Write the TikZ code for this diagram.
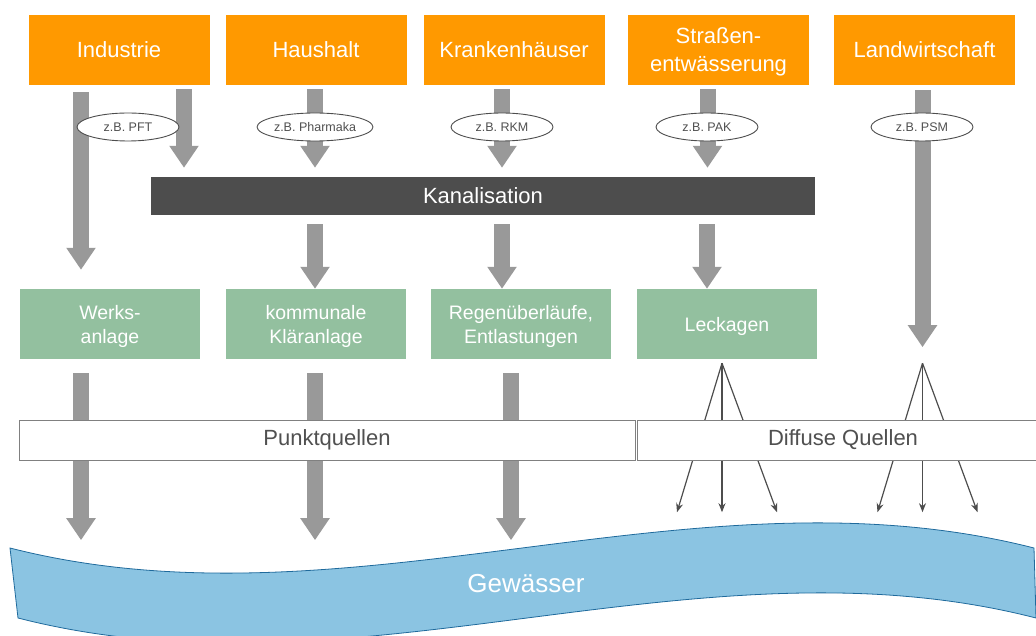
\documentclass[tikz,border=0pt]{standalone}
\usepackage{fontspec}
\setmainfont{Liberation Sans}
\usetikzlibrary{arrows.meta, shapes.geometric, calc, backgrounds}
\definecolor{quelle}{HTML}{FF9900}
\definecolor{anlage}{HTML}{93C09F}
\definecolor{kanal}{HTML}{4D4D4D}
\definecolor{pfeil}{HTML}{999999}
\definecolor{wasser}{HTML}{8BC4E2}
\definecolor{ufer}{HTML}{1F6A9C}
\definecolor{schrift}{HTML}{505050}
\begin{document}
\begin{tikzpicture}[x=1pt, y=-1pt,
  quelle/.style={fill=quelle, text=white, minimum width=181pt, minimum height=70pt, inner sep=0pt, text depth=0pt, align=center, font=\fontsize{22}{28}\selectfont},
  anlage/.style={fill=anlage, text=white, minimum width=180pt, minimum height=70pt, inner sep=0pt, text depth=0pt, align=center, font=\fontsize{19.5}{24}\selectfont},
  stoff/.style={ellipse, draw=kanal, line width=0.9pt, fill=white, text=schrift, minimum width=102pt, minimum height=28pt, inner sep=0pt, font=\fontsize{12.5}{14}\selectfont},
  band/.style={draw=gray, line width=0.8pt, fill=white, text=schrift, minimum height=40pt, inner sep=0pt, font=\fontsize{22}{26}\selectfont},
  dick/.style={draw=pfeil, line width=16pt, -{Triangle[width=28pt, length=22pt]}},
  duenn/.style={draw=kanal, line width=1.2pt, -{Stealth[width=7pt, length=9pt]}}]
  \useasboundingbox (0,0) rectangle (1036,636);
  % Quellen
  \node[quelle] (ind) at (119,50) {Industrie};
  \node[quelle] (hh) at (316,50) {Haushalt};
  \node[quelle] (kh) at (514,50) {Krankenhäuser};
  \node[quelle] (str) at (718.5,50) {Straßen-\\entwässerung};
  \node[quelle] (lw) at (924.5,50) {Landwirtschaft};
  \node[fill=kanal, text=white, minimum width=664pt, minimum height=38pt, inner sep=0pt, font=\fontsize{22}{26}\selectfont] (kan) at (483,196) {Kanalisation};
  \node[anlage] (wa) at (110,324) {Werks-\\anlage};
  \node[anlage] (ka) at (316,324) {kommunale\\Kläranlage};
  \node[anlage] (ru) at (521,324) {Regenüberläufe,\\Entlastungen};
  \node[anlage] (le) at (727,324) {Leckagen};
  \node[band, minimum width=616pt] (pq) at (327,440) {Punktquellen};
  \node[band, minimum width=412pt] (dq) at (843,440) {Diffuse Quellen};
  \coordinate (leq) at ($(le.south)+(-5,4)$);
  \coordinate (lwq) at ($(lw.south |- le.south)+(-2,4)$);
  % Stoffe
  \node[stoff] (pft) at (128,127) {z.B. PFT};
  \node[stoff] (pha) at (315,127) {z.B. Pharmaka};
  \node[stoff] (rkm) at (502,127) {z.B. RKM};
  \node[stoff] (pak) at (707,127) {z.B. PAK};
  \node[stoff] (psm) at (922,127) {z.B. PSM};
  % Gewaesser
  \draw[ufer, fill=wasser, line width=0.8pt] (10,548) .. controls (351,635) and (693,461) .. (1034,548) -- (1036,618) .. controls (697,531) and (357,705) .. (18,618) -- cycle;
  \node[text=white, font=\fontsize{26}{30}\selectfont] (gew) at (526,584) {Gewässer};
  \begin{scope}[on background layer]
    \draw[dick] ($(ind.south)+(-38,7)$) -- ($(ind.south |- wa.north)+(-38,-19)$);
    \draw[dick] ($(ind.south)+(65,4)$) -- ($(ind.south |- kan.north)+(65,-9)$);
    \draw[dick] ($(hh.south)+(-1,4)$) -- ($(hh.south |- kan.north)+(-1,-9)$);
    \draw[dick] ($(kh.south)+(-12,4)$) -- ($(kh.south |- kan.north)+(-12,-9)$);
    \draw[dick] ($(str.south)+(-11,4)$) -- ($(str.south |- kan.north)+(-11,-9)$);
    \draw[dick] ($(lw.south)+(-2,5)$) -- ($(lwq)+(0,-16)$);
    \draw[dick] ($(ka.north |- kan.south)+(-1,9)$) -- ($(ka.north)+(-1,0)$);
    \draw[dick] ($(ru.north |- kan.south)+(-19,9)$) -- ($(ru.north)+(-19,0)$);
    \draw[dick] ($(le.north |- kan.south)+(-20,9)$) -- ($(le.north)+(-20,0)$);
    \draw[dick] ($(wa.south)+(-29,14)$) -- ($(wa.south)+(-29,181)$);
    \draw[dick] ($(ka.south)+(-1,14)$) -- ($(ka.south)+(-1,181)$);
    \draw[dick] ($(ru.south)+(-10,14)$) -- ($(ru.south)+(-10,181)$);
    \foreach \dx in {-45,0,55} {
      \draw[duenn] (leq) -- ++(\dx,149);
      \draw[duenn] (lwq) -- ++(\dx,149);
    }
  \end{scope}
\end{tikzpicture}
\end{document}
